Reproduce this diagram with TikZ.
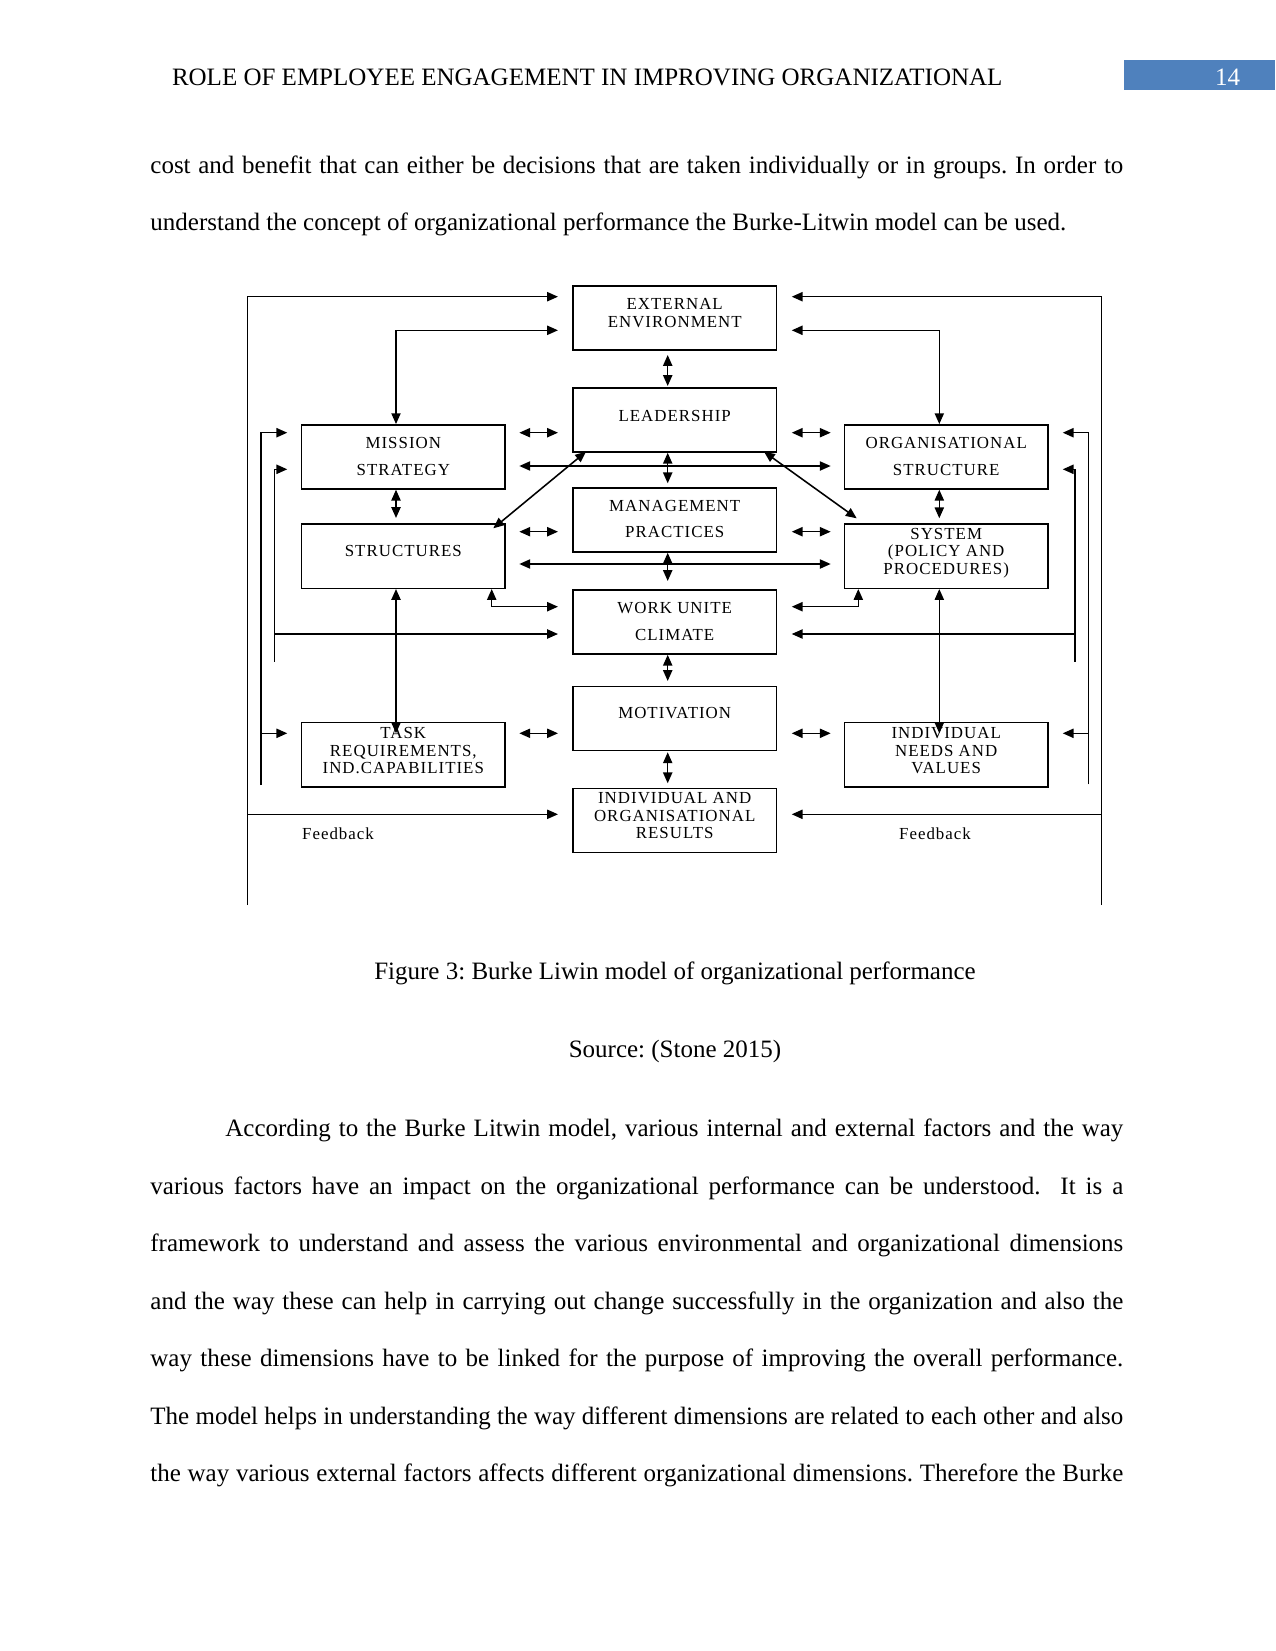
\documentclass[tikz,border=0pt]{standalone}
\usepackage{fontspec}
\setmainfont{Liberation Serif}
\newfontfamily\bfnt[LetterSpace=6]{Liberation Serif}
\usetikzlibrary{arrows.meta}
\definecolor{pgblue}{HTML}{4F81BD}
\frenchspacing
\begin{document}
\begin{tikzpicture}[x=0.48pt,y=-0.48pt,
  box/.style={draw, line width=0.7pt, minimum width=97.6pt, minimum height=30.8pt, inner sep=0pt},
  bt/.style={font=\bfnt\fontsize{8.1}{9}\selectfont, inner sep=0pt, anchor=base},
  con/.style={line width=0.75pt},
  tip/.style={-{Triangle[length=5.2pt,width=4.4pt]}},
  dtip/.style={{Triangle[length=5.2pt,width=4.4pt]}-{Triangle[length=5.2pt,width=4.4pt]}},
  body/.style={font=\fontsize{12}{14}\selectfont\frenchspacing, inner sep=0pt, anchor=base west},
  ctr/.style={font=\fontsize{12}{14}\selectfont\frenchspacing, inner sep=0pt, anchor=base},
]
\fill[white] (0,0) rectangle (1275,1651);
\useasboundingbox (0,0) rectangle (1275,1651);

% header
\node[body] (hdr) at (171.6,86) {ROLE OF EMPLOYEE ENGAGEMENT IN IMPROVING ORGANIZATIONAL};
\node[fill=pgblue, minimum width=72.5pt, minimum height=14.2pt, inner sep=0pt] (pgbox) at (1199.5,74.75) {};
\node[ctr, text=white] (pgno) at (1227.6,86) {14};

% body text top
\node[body] (l1) at (150,173.3) {\hbox to 467pt{cost and benefit that can either be decisions that are taken individually or in groups. In order to}};
\node[body] (l2) at (150,230.1) {understand the concept of organizational performance the Burke-Litwin model can be used.};

% boxes
\node[box] (ext) at (674.7,317.9) {};
\node[box] (lead) at (674.7,420) {};
\node[box] (mgmt) at (674.7,520) {};
\node[box] (work) at (674.7,622) {};
\node[box] (moti) at (674.7,718.4) {};
\node[box] (res) at (674.7,820.5) {};
\node[box] (miss) at (403.3,456.9) {};
\node[box] (struc) at (403.3,556.2) {};
\node[box] (task) at (403.3,754.7) {};
\node[box] (org) at (946.2,456.9) {};
\node[box] (sys) at (946.2,556.2) {};
\node[box] (indiv) at (946.2,754.7) {};

% box texts
\node[bt] (t1) at (674.7,309.6) {EXTERNAL};
\node[bt] (t2) at (674.7,327) {ENVIRONMENT};
\node[bt] (t3) at (674.7,421) {LEADERSHIP};
\node[bt] (t4) at (403.3,448.6) {MISSION};
\node[bt] (t5) at (403.3,475.3) {STRATEGY};
\node[bt] (t6) at (946.2,448.6) {ORGANISATIONAL};
\node[bt] (t7) at (946.2,475.3) {STRUCTURE};
\node[bt] (t8) at (674.7,511.3) {MANAGEMENT};
\node[bt] (t9) at (674.7,537.6) {PRACTICES};
\node[bt] (t10) at (403.3,556.3) {STRUCTURES};
\node[bt] (t11) at (946.2,539.6) {SYSTEM};
\node[bt] (t12) at (946.2,556.3) {(POLICY AND};
\node[bt] (t13) at (946.2,574.3) {PROCEDURES)};
\node[bt] (t14) at (674.7,613.6) {WORK UNITE};
\node[bt] (t15) at (674.7,640.3) {CLIMATE};
\node[bt] (t16) at (674.7,718.6) {MOTIVATION};
\node[bt] (t17) at (403.3,738.6) {TASK};
\node[bt] (t18) at (403.3,756) {REQUIREMENTS,};
\node[bt] (t19) at (403.3,773) {IND.CAPABILITIES};
\node[bt] (t20) at (946.2,738.6) {INDIVIDUAL};
\node[bt] (t21) at (946.2,756) {NEEDS AND};
\node[bt] (t22) at (946.2,773) {VALUES};
\node[bt] (t23) at (674.7,803.6) {INDIVIDUAL AND};
\node[bt] (t24) at (674.7,821.3) {ORGANISATIONAL};
\node[bt] (t25) at (674.7,838) {RESULTS};
\node[bt, anchor=base west] (fb1) at (301.7,839.3) {Feedback};
\node[bt] (fb2) at (935,839.3) {Feedback};

% outer loops
\draw[con,tip] (247.3,905) -- (247.3,296.7) -- (558,296.7);
\draw[con,tip] (247.3,814.3) -- (558,814.3);
\draw[con,tip] (1101.7,905) -- (1101.7,296.7) -- (791.7,296.7);
\draw[con,tip] (1101.7,814.3) -- (791.7,814.3);
% elbows to external environment
\draw[con,dtip] (558,330.3) -- (396,330.3) -- (396,0 |- miss.north);
\draw[con,dtip] (791.7,330.3) -- (939.3,330.3) -- (939.3,0 |- org.north);
% inner side loops
\draw[con,tip] (261,785) -- (261,432.7) -- (287.3,432.7);
\draw[con,tip] (261,733.3) -- (287.3,733.3);
\draw[con,tip] (274.3,661.7) -- (274.3,469.3) -- (287.3,469.3);
\draw[con,tip] (274.3,634) -- (558,634);
\draw[con,tip] (1088.3,784.3) -- (1088.3,432.7) -- (1062.7,432.7);
\draw[con,tip] (1088.3,733.3) -- (1062.7,733.3);
\draw[con,tip] (1075,661.7) -- (1075,469.3) -- (1062.7,469.3);
\draw[con,tip] (1075,634) -- (791.7,634);
% long horizontals
\draw[con,dtip] (519.3,466) -- (830.7,466);
\draw[con,dtip] (519.3,564) -- (830.7,564);
% short horizontals
\foreach \yy in {432.7,531.7,733.3}{
  \draw[con,dtip] (519.3,\yy) -- (558,\yy);
  \draw[con,dtip] (791.7,\yy) -- (830.7,\yy);
}
% center verticals
\draw[con,dtip] (667.7,355) -- (667.7,386);
\draw[con,dtip] (667.7,0 |- lead.south) -- (667.7,483.3);
\draw[con,dtip] (667.7,0 |- mgmt.south) -- (667.7,581);
\draw[con,dtip] (667.7,0 |- work.south) -- (667.7,681);
\draw[con,dtip] (667.7,752.3) -- (667.7,783.3);
% side verticals
\draw[con,dtip] (396,0 |- miss.south) -- (396,518);
\draw[con,dtip] (939.3,0 |- org.south) -- (939.3,518.3);
\draw[con,dtip] (396,0 |- struc.south) -- (396,733.3);
\draw[con,dtip] (939.3,0 |- sys.south) -- (939.3,733.3);
% diagonals
\draw[con,dtip] (586,451.7) -- (493.3,528.3);
\draw[con,dtip] (764,451.7) -- (856.7,518.3);
% structures/system to work climate
\draw[con,dtip] (491.7,0 |- struc.south) -- (491.7,606.7) -- (558,606.7);
\draw[con,dtip] (858.3,0 |- sys.south) -- (858.3,606.7) -- (791.7,606.7);

% caption
\node[ctr] (cap) at (675,979.7) {Figure 3: Burke Liwin model of organizational performance};
\node[ctr] (src) at (675,1057.6) {Source: (Stone 2015)};

% paragraph
\node[body] (p1) at (225,1136.6) {\hbox to 431pt{According to the Burke Litwin model, various internal and external factors and the way}};
\node[body] (p2) at (150,1194.1) {\hbox to 467pt{various factors have an impact on the organizational performance can be understood.\ \ It is a}};
\node[body] (p3) at (150,1251.6) {\hbox to 467pt{framework to understand and assess the various environmental and organizational dimensions}};
\node[body] (p4) at (150,1309.1) {\hbox to 467pt{and the way these can help in carrying out change successfully in the organization and also the}};
\node[body] (p5) at (150,1366.6) {\hbox to 467pt{way these dimensions have to be linked for the purpose of improving the overall performance.}};
\node[body] (p6) at (150,1424.1) {\hbox to 467pt{The model helps in understanding the way different dimensions are related to each other and also}};
\node[body] (p7) at (150,1481.6) {\hbox to 467pt{the way various external factors affects different organizational dimensions. Therefore the Burke}};
\end{tikzpicture}
\end{document}
